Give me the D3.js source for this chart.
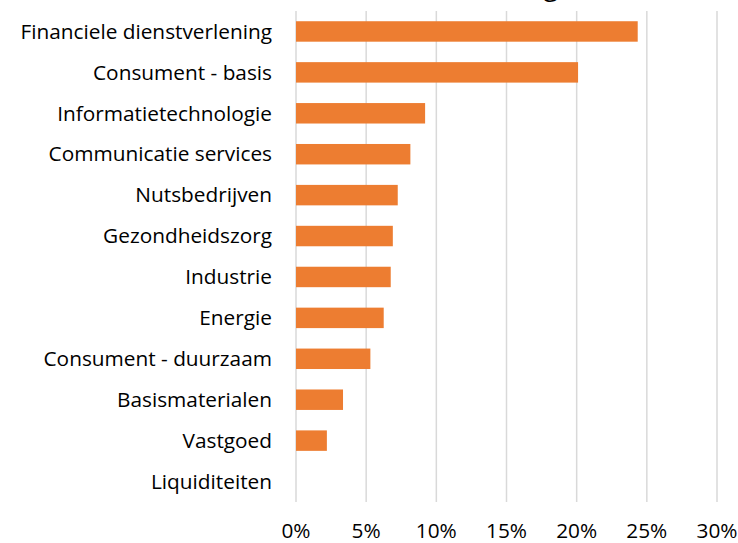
<!DOCTYPE html>
<html>
<head>
  <meta charset="UTF-8">
  <style>
    body { margin: 0; background: #fff; }
    text { font-family: "Open Sans", sans-serif; fill: #000; }
  </style>
  <script src="https://d3js.org/d3.v7.min.js"></script>
</head>
<body>
  <svg id="chart" width="738" height="543"></svg>
  <script>
    // sector weights (%)
    var sectors = ["Financiele dienstverlening", "Consument - basis", "Informatietechnologie",
      "Communicatie services", "Nutsbedrijven", "Gezondheidszorg", "Industrie", "Energie",
      "Consument - duurzaam", "Basismaterialen", "Vastgoed", "Liquiditeiten"];
    var weights = [24.35, 20.1, 9.2, 8.15, 7.25, 6.9, 6.75, 6.25, 5.3, 3.35, 2.2, 0];
    var tickValues = [0, 5, 10, 15, 20, 25, 30];

    var svg = d3.select("#chart");
    var margin = {top: 11, left: 296, right: 21, bottom: 41};
    var w = 738 - margin.left - margin.right,
        h = 543 - margin.top - margin.bottom;

    var x = d3.scaleLinear().domain([0, 30]).range([0, w]);
    var y = d3.scaleBand().domain(sectors).range([0, h]).paddingInner(0.5).paddingOuter(0.25);

    // title, cut off at the top of the picture
    svg.append("text")
      .attr("x", 558).attr("y", -4)
      .attr("text-anchor", "end")
      .style("font-size", "26px")
      .text("Sectorverdeling");

    var g = svg.append("g").attr("transform", "translate(" + margin.left + "," + margin.top + ")");

    // gridlines
    g.selectAll(".grid").data(tickValues).enter().append("line")
      .attr("x1", d => x(d)).attr("x2", d => x(d))
      .attr("y1", 0).attr("y2", h)
      .attr("stroke", "#d9d9d9").attr("stroke-width", 1.5);

    g.selectAll(".bar").data(weights).enter().append("rect")
      .attr("x", x(0))
      .attr("y", (d, i) => y(sectors[i]))
      .attr("width", d => x(d) - x(0))
      .attr("height", y.bandwidth())
      .attr("fill", "#ed7d31");

    // category labels
    g.selectAll(".lab").data(sectors).enter().append("text")
      .attr("x", -24)
      .attr("y", d => y(d) + y.bandwidth() / 2)
      .attr("dy", "0.35em")
      .attr("text-anchor", "end")
      .style("font-size", "20.8px")
      .text(d => d);

    // x axis tick labels
    g.selectAll(".tick").data(tickValues).enter().append("text")
      .attr("x", d => x(d))
      .attr("y", h + 29)
      .attr("dy", "0.35em")
      .attr("text-anchor", "middle")
      .style("font-size", "20.8px")
      .text(d => d + "%");
  </script>
</body>
</html>
